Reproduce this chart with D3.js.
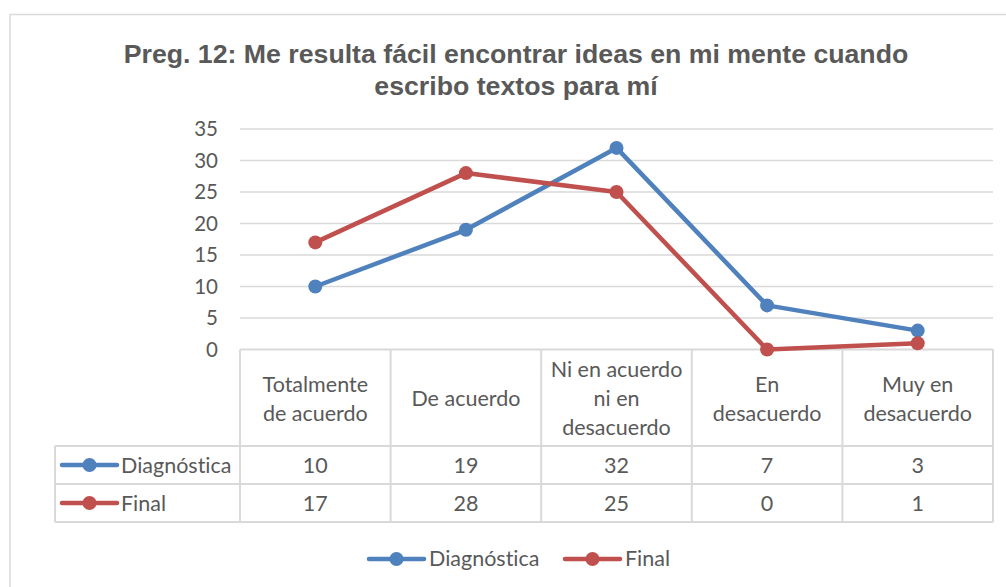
<!DOCTYPE html>
<html>
<head>
<meta charset="utf-8">
<script src="https://cdn.jsdelivr.net/npm/d3@7"></script>
<style>
  body { margin: 0; background: #fff; }
  text { fill: #595959; font-variant-ligatures: none; }
</style>
</head>
<body>
<div id="chart"></div>
<script>
// data
var categories = ["Totalmente de acuerdo", "De acuerdo", "Ni en acuerdo ni en desacuerdo", "En desacuerdo", "Muy en desacuerdo"];
var catLines = [["Totalmente", "de acuerdo"], ["De acuerdo"], ["Ni en acuerdo", "ni en", "desacuerdo"], ["En", "desacuerdo"], ["Muy en", "desacuerdo"]];
var seriesNames = ["Diagnóstica", "Final"];
var diagnostica = [10, 19, 32, 7, 3];
var final = [17, 28, 25, 0, 1];
var yTicks = [0, 5, 10, 15, 20, 25, 30, 35];
var titleLines = ["Preg. 12: Me resulta fácil encontrar ideas en mi mente cuando", "escribo textos para mí"];

var colors = ["#4F81BD", "#C0504D"];
var font = "Lato, 'Open Sans', sans-serif";
var txtSize = "21.5px";

var width = 1006, height = 587;
var plot = {left: 240, right: 993, top: 129, bottom: 349.5};

var svg = d3.select("#chart").append("svg")
    .attr("width", width)
    .attr("height", height);

// outer chart border
svg.append("rect")
    .attr("x", 10).attr("y", 14.5)
    .attr("width", 1010).attr("height", 600)
    .attr("fill", "none")
    .attr("stroke", "#d9d9d9")
    .attr("stroke-width", 1.5);

// title
svg.append("g").selectAll("text")
    .data(titleLines)
  .enter().append("text")
    .attr("x", 516)
    .attr("y", function(d, i) { return 63 + i * 32; })
    .attr("text-anchor", "middle")
    .style("font-family", "'Liberation Sans', Arial, sans-serif")
    .style("font-weight", "bold")
    .style("font-size", "26.7px")
    .text(function(d) { return d; });

var x = d3.scaleBand().domain(categories).range([plot.left, plot.right]).padding(0);
var y = d3.scaleLinear().domain([0, 35]).range([plot.bottom, plot.top]);

// gridlines
svg.append("g").selectAll("line")
    .data(yTicks.filter(function(d) { return d > 0; }))
  .enter().append("line")
    .attr("x1", plot.left).attr("x2", plot.right)
    .attr("y1", function(d) { return y(d); })
    .attr("y2", function(d) { return y(d); })
    .attr("stroke", "#d9d9d9")
    .attr("stroke-width", 1.5);

// y axis labels
var yAxis = svg.append("g")
    .attr("transform", "translate(" + (plot.left - 14) + ",0)")
    .call(d3.axisLeft(y).tickValues(yTicks).tickSize(0).tickPadding(8));
yAxis.select(".domain").remove();
yAxis.selectAll("text")
    .style("font-family", font)
    .style("font-size", "20.5px")
    .attr("fill", "#595959");

// data table
var rowH = 38;
var headTop = plot.bottom, headBot = 446;
var tableLeft = 55;
var grid = "#d9d9d9";
var tbl = svg.append("g").attr("stroke", grid).attr("stroke-width", 2).attr("fill", "none");

// horizontal lines
tbl.append("line").attr("x1", plot.left).attr("x2", plot.right).attr("y1", headTop).attr("y2", headTop);
[headBot, headBot + rowH, headBot + 2 * rowH].forEach(function(yy) {
  tbl.append("line").attr("x1", tableLeft).attr("x2", plot.right).attr("y1", yy).attr("y2", yy);
});
// vertical lines
categories.forEach(function(c) {
  tbl.append("line").attr("x1", x(c)).attr("x2", x(c)).attr("y1", headTop).attr("y2", headBot + 2 * rowH);
});
tbl.append("line").attr("x1", plot.right).attr("x2", plot.right).attr("y1", headTop).attr("y2", headBot + 2 * rowH);
tbl.append("line").attr("x1", tableLeft).attr("x2", tableLeft).attr("y1", headBot).attr("y2", headBot + 2 * rowH);

// header labels
catLines.forEach(function(lines, i) {
  var cx = x(categories[i]) + x.bandwidth() / 2;
  svg.append("g").selectAll("text")
      .data(lines)
    .enter().append("text")
      .attr("x", cx)
      .attr("y", function(d, j) { return 406 + (j - (lines.length - 1) / 2) * 29; })
      .attr("text-anchor", "middle")
      .style("font-family", font)
      .style("font-size", txtSize)
      .text(function(d) { return d; });
});

// legend key helper
function legendKey(g, x0, cy, color) {
  g.append("line")
      .attr("x1", x0).attr("x2", x0 + 55)
      .attr("y1", cy).attr("y2", cy)
      .attr("stroke", color)
      .attr("stroke-width", 4.5)
      .attr("stroke-linecap", "round");
  g.append("circle")
      .attr("cx", x0 + 27.5).attr("cy", cy)
      .attr("r", 7)
      .attr("fill", color);
}

var allSeries = [diagnostica, final];

// value rows
allSeries.forEach(function(vals, s) {
  var rowTop = headBot + s * rowH;
  var cy = rowTop + rowH / 2;
  legendKey(svg, 62, cy, colors[s]);
  svg.append("text")
      .attr("x", 121)
      .attr("y", rowTop + 27)
      .style("font-family", font)
      .style("font-size", txtSize)
      .text(seriesNames[s]);
  svg.append("g").selectAll("text")
      .data(vals)
    .enter().append("text")
      .attr("x", function(d, i) { return x(categories[i]) + x.bandwidth() / 2; })
      .attr("y", rowTop + 27)
      .attr("text-anchor", "middle")
      .style("font-family", font)
      .style("font-size", txtSize)
      .text(function(d) { return d; });
});

// lines and markers
var line = d3.line()
    .x(function(d, i) { return x(categories[i]) + x.bandwidth() / 2; })
    .y(function(d) { return y(d); });

allSeries.forEach(function(vals, s) {
  svg.append("path")
      .datum(vals)
      .attr("d", line)
      .attr("fill", "none")
      .attr("stroke", colors[s])
      .attr("stroke-width", 4.5)
      .attr("stroke-linejoin", "round");
  svg.append("g").selectAll("circle")
      .data(vals)
    .enter().append("circle")
      .attr("cx", function(d, i) { return x(categories[i]) + x.bandwidth() / 2; })
      .attr("cy", function(d) { return y(d); })
      .attr("r", 7)
      .attr("fill", colors[s]);
});

// bottom legend
var legendX = [369, 565];
seriesNames.forEach(function(name, s) {
  legendKey(svg, legendX[s], 559, colors[s]);
  svg.append("text")
      .attr("x", legendX[s] + 60)
      .attr("y", 566)
      .style("font-family", font)
      .style("font-size", txtSize)
      .text(name);
});
</script>
</body>
</html>
